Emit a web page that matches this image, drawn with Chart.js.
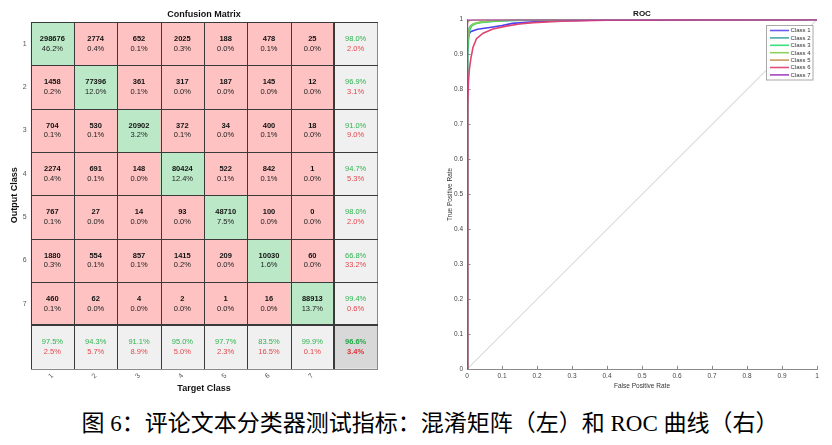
<!DOCTYPE html>
<html><head><meta charset="utf-8">
<script src="https://cdn.jsdelivr.net/npm/chart.js@4.4.1/dist/chart.umd.min.js"></script>
<style>
html,body{margin:0;padding:0;background:#fff;width:832px;height:445px;overflow:hidden}
#cm{position:absolute;left:0;top:0}
#roc{position:absolute;left:420px;top:0}
#cap{position:absolute;left:14px;top:409px;width:832px;text-align:center;font-family:"Liberation Serif","Noto Sans CJK SC",serif;font-size:23px;line-height:30px;color:#000;white-space:nowrap}
</style></head><body>
<canvas id="cm" width="400" height="400"></canvas>
<canvas id="roc" width="412" height="400"></canvas>
<div id="cap">图 6：评论文本分类器测试指标：混淆矩阵（左）和 ROC 曲线（右）</div>
<script>
// ---------- Confusion matrix data ----------
const classes = ['1','2','3','4','5','6','7'];
const counts = [
  [298676, 2774, 652, 2025, 188, 478, 25],
  [1458, 77396, 361, 317, 187, 145, 12],
  [704, 530, 20902, 372, 34, 400, 18],
  [2274, 691, 148, 80424, 522, 842, 1],
  [767, 27, 14, 93, 48710, 100, 0],
  [1880, 554, 857, 1415, 209, 10030, 60],
  [460, 62, 4, 2, 1, 16, 88913]
];
const cellPct = [
  ['46.2%','0.4%','0.1%','0.3%','0.0%','0.1%','0.0%'],
  ['0.2%','12.0%','0.1%','0.0%','0.0%','0.0%','0.0%'],
  ['0.1%','0.1%','3.2%','0.1%','0.0%','0.1%','0.0%'],
  ['0.4%','0.1%','0.0%','12.4%','0.1%','0.1%','0.0%'],
  ['0.1%','0.0%','0.0%','0.0%','7.5%','0.0%','0.0%'],
  ['0.3%','0.1%','0.1%','0.2%','0.0%','1.6%','0.0%'],
  ['0.1%','0.0%','0.0%','0.0%','0.0%','0.0%','13.7%']
];
const rowCorrect = ['98.0%','96.9%','91.0%','94.7%','98.0%','66.8%','99.4%'];
const rowWrong   = ['2.0%','3.1%','9.0%','5.3%','2.0%','33.2%','0.6%'];
const colCorrect = ['97.5%','94.3%','91.1%','95.0%','97.7%','83.5%','99.9%'];
const colWrong   = ['2.5%','5.7%','8.9%','5.0%','2.3%','16.5%','0.1%'];
const totalCorrect = '96.6%';
const totalWrong = '3.4%';

// ---------- ROC data (FPR, TPR) ----------
const class1 = [[0,0],[0.001,0.9],[0.003,0.945],[0.006,0.958],[0.01,0.965],[0.03,0.972],[0.07,0.978],[0.1,0.983],[0.13,0.989],[0.18,0.993],[0.25,0.996],[0.35,0.998],[0.5,0.999],[1,1]];
const class2 = [[0,0],[0.001,0.94],[0.004,0.97],[0.01,0.982],[0.02,0.988],[0.04,0.992],[0.08,0.996],[0.15,0.998],[0.3,0.999],[1,1]];
const class3 = [[0,0],[0.002,0.9],[0.005,0.95],[0.008,0.97],[0.013,0.981],[0.022,0.987],[0.036,0.991],[0.064,0.994],[0.12,0.997],[0.25,0.999],[1,1]];
const class4 = [[0,0],[0.001,0.93],[0.004,0.965],[0.008,0.978],[0.015,0.986],[0.03,0.991],[0.06,0.995],[0.12,0.998],[0.3,1],[1,1]];
const class5 = [[0,0],[0,0.985],[0.003,0.995],[0.01,0.998],[0.03,0.999],[0.1,1],[1,1]];
const class6 = [[0,0],[0.002,0.75],[0.004,0.82],[0.007,0.86],[0.011,0.888],[0.017,0.92],[0.027,0.945],[0.046,0.961],[0.074,0.973],[0.112,0.981],[0.15,0.987],[0.19,0.991],[0.27,0.995],[0.4,0.998],[0.6,0.999],[1,1]];
const class7 = [[0,0],[0,0.995],[0.001,0.999],[0.01,1],[1,1]];
const chance = [[0,0],[1,1]];
const rocNames = ['Class 1','Class 2','Class 3','Class 4','Class 5','Class 6','Class 7'];
const rocTicks = [0,0.1,0.2,0.3,0.4,0.5,0.6,0.7,0.8,0.9,1];

// ---------- styles ----------
const FONT = '"Liberation Sans", Arial, sans-serif';
const GREEN_CELL = '#bbe9c7', RED_CELL = '#fdc2c1', GRAY_CELL = '#f0f0f0', DARK_CELL = '#d8d8d8';
const GREEN_TXT = '#2fb350', RED_TXT = '#e5464b';
const rocColors = ['#4a3ef0','#3aa9a6','#2adb6a','#86cf55','#c79a5e','#e0436f','#a03cb8'];
const legendColors = ['#6a5af0','#4aaaa8','#3de07a','#8fd060','#c99a60','#e0507a','#a545c0'];

// ---------- Confusion matrix chart ----------
const N = classes.length + 1;
function cellColor(r, c) {
  if (r === N - 1 && c === N - 1) return DARK_CELL;
  if (r === N - 1 || c === N - 1) return GRAY_CELL;
  return r === c ? GREEN_CELL : RED_CELL;
}
const cmDatasets = [];
for (let r = 0; r < N; r++) {
  const colors = [];
  for (let c = 0; c < N; c++) colors.push(cellColor(r, c));
  cmDatasets.push({
    data: new Array(N).fill(1),
    backgroundColor: colors,
    borderWidth: 0,
    barPercentage: 1,
    categoryPercentage: 1
  });
}

const cmPlugin = {
  id: 'cmDecor',
  afterDatasetsDraw(chart) {
    const {ctx, chartArea: a, scales: {x, y}} = chart;
    const cw = x.getPixelForValue(1) - x.getPixelForValue(0);
    const xb = i => x.getPixelForValue(i) - cw / 2;
    const yb = j => y.getPixelForValue(j);
    ctx.save();
    for (let i = 0; i <= N; i++) {
      const px = Math.round(xb(i)) + 0.5;
      ctx.beginPath();
      ctx.strokeStyle = i === N ? '#8a8a8a' : '#3a3a3a';
      ctx.lineWidth = i === N - 1 ? 2 : 1;
      ctx.moveTo(i === N - 1 ? px - 0.5 : px, Math.round(yb(0)));
      ctx.lineTo(i === N - 1 ? px - 0.5 : px, Math.round(yb(N)) + 1);
      ctx.stroke();
    }
    for (let j = 0; j <= N; j++) {
      const py = Math.round(yb(j)) + 0.5;
      ctx.beginPath();
      ctx.strokeStyle = j === N ? '#8a8a8a' : '#3a3a3a';
      ctx.lineWidth = j === N - 1 ? 2 : 1;
      ctx.moveTo(Math.round(xb(0)), j === N - 1 ? py - 0.5 : py);
      ctx.lineTo(Math.round(xb(N)) + 1, j === N - 1 ? py - 0.5 : py);
      ctx.stroke();
    }
    ctx.textAlign = 'center';
    ctx.textBaseline = 'middle';
    for (let r = 0; r < N; r++) {
      for (let c = 0; c < N; c++) {
        const cx = x.getPixelForValue(c);
        const cy = (yb(r) + yb(r + 1)) / 2;
        let t1, t2, c1, c2, b2;
        if (r < N - 1 && c < N - 1) {
          t1 = String(counts[r][c]); t2 = cellPct[r][c]; c1 = '#111'; c2 = '#222'; b2 = false;
        } else if (r < N - 1) {
          t1 = rowCorrect[r]; t2 = rowWrong[r]; c1 = GREEN_TXT; c2 = RED_TXT; b2 = false;
        } else if (c < N - 1) {
          t1 = colCorrect[c]; t2 = colWrong[c]; c1 = GREEN_TXT; c2 = RED_TXT; b2 = false;
        } else {
          t1 = totalCorrect; t2 = totalWrong; c1 = '#1ea845'; c2 = '#e03035'; b2 = true;
        }
        const bold1 = (r < N - 1 && c < N - 1) || b2;
        ctx.font = (bold1 ? 'bold ' : '') + '7.5px ' + FONT;
        ctx.fillStyle = c1;
        ctx.fillText(t1, cx, cy - 4.6);
        ctx.font = (b2 ? 'bold ' : '') + '7.5px ' + FONT;
        ctx.fillStyle = c2;
        ctx.fillText(t2, cx, cy + 4.8);
      }
    }
    ctx.font = 'bold 9px ' + FONT;
    ctx.fillStyle = '#111';
    ctx.fillText('Confusion Matrix', (a.left + a.right) / 2, 14.5);
    ctx.restore();
  }
};

new Chart(document.getElementById('cm'), {
  type: 'bar',
  data: {labels: [...classes, ''], datasets: cmDatasets},
  options: {
    responsive: false,
    animation: false,
    events: [],
    layout: {padding: {top: 22, right: 22.7, bottom: 0, left: 0}},
    plugins: {legend: {display: false}, tooltip: {enabled: false}, title: {display: false}},
    scales: {
      x: {
        stacked: true,
        grid: {display: false, drawTicks: false},
        border: {display: false},
        ticks: {autoSkip: false, minRotation: 45, maxRotation: 45, padding: 3, font: {family: FONT, size: 7}, color: '#555'},
        title: {display: true, text: 'Target Class', font: {family: FONT, size: 9, weight: 'bold'}, color: '#111', padding: {top: 0, bottom: 5.6}},
        afterFit(s) { s.height = 31.3; }
      },
      y: {
        stacked: true,
        reverse: true,
        min: 0,
        max: N,
        grid: {display: false, drawTicks: false},
        border: {display: false},
        afterBuildTicks(s) { s.ticks = classes.map((_, i) => ({value: i + 0.5})); },
        ticks: {padding: 4, font: {family: FONT, size: 7}, color: '#555', callback: v => String(v + 0.5)},
        title: {display: true, text: 'Output Class', font: {family: FONT, size: 9, weight: 'bold'}, color: '#111', padding: {top: 9.6, bottom: 0}},
        afterFit(s) { s.width = 30.7; }
      }
    }
  },
  plugins: [cmPlugin]
});

// ---------- ROC chart ----------
const rocSeries = [class1, class2, class3, class4, class5, class6, class7];
const rocDatasets = rocSeries.map((pts, i) => ({
  label: rocNames[i],
  data: pts.map(p => ({x: p[0], y: p[1]})),
  borderColor: rocColors[i],
  borderWidth: i === 6 ? 2 : 1.6,
  pointRadius: 0,
  fill: false,
  tension: 0,
  order: 8 - i
}));
rocDatasets.push({
  label: 'chance',
  data: chance.map(p => ({x: p[0], y: p[1]})),
  borderColor: '#c9c9c9',
  borderWidth: 1,
  pointRadius: 0,
  fill: false,
  order: 20
});

const rocPlugin = {
  id: 'rocDecor',
  beforeDatasetsDraw(chart) {
    const {ctx, chartArea: a, scales: {x, y}} = chart;
    ctx.save();
    ctx.strokeStyle = '#8a8a8a';
    ctx.lineWidth = 1;
    x.ticks.forEach(t => {
      const px = Math.round(x.getPixelForValue(t.value)) + 0.5;
      ctx.beginPath(); ctx.moveTo(px, a.bottom); ctx.lineTo(px, a.bottom - 3.5); ctx.stroke();
    });
    y.ticks.forEach(t => {
      const py = Math.round(y.getPixelForValue(t.value)) + 0.5;
      ctx.beginPath(); ctx.moveTo(a.left, py); ctx.lineTo(a.left + 3.5, py); ctx.stroke();
    });
    ctx.restore();
  },
  afterDraw(chart) {
    const {ctx, chartArea: a} = chart;
    ctx.save();
    ctx.font = 'bold 8px ' + FONT;
    ctx.fillStyle = '#111';
    ctx.textAlign = 'center';
    ctx.textBaseline = 'middle';
    ctx.fillText('ROC', (a.left + a.right) / 2, 13.5);
    const bw = 46.5, bh = 54.5;
    const bx = Math.round(a.right - 4.5 - bw) + 0.5, by = Math.round(a.top + 5) + 0.5;
    ctx.fillStyle = '#fff';
    ctx.fillRect(bx, by, bw, bh);
    ctx.strokeStyle = '#a8a8a8';
    ctx.lineWidth = 1;
    ctx.strokeRect(bx, by, bw, bh);
    ctx.textAlign = 'left';
    ctx.font = '6px ' + FONT;
    rocNames.forEach((name, i) => {
      const ly = by + 5 + i * 7.4;
      ctx.strokeStyle = legendColors[i];
      ctx.lineWidth = 1.6;
      ctx.beginPath(); ctx.moveTo(bx + 3.5, ly); ctx.lineTo(bx + 22.5, ly); ctx.stroke();
      ctx.fillStyle = '#333';
      ctx.fillText(name, bx + 24, ly + 0.3);
    });
    ctx.restore();
  }
};

const tickFmt = v => String(Math.round(v * 10) / 10);

new Chart(document.getElementById('roc'), {
  type: 'line',
  data: {datasets: rocDatasets},
  options: {
    responsive: false,
    animation: false,
    events: [],
    layout: {padding: {top: 19.5, right: 15, bottom: 0, left: 0}},
    plugins: {legend: {display: false}, tooltip: {enabled: false}, title: {display: false}},
    scales: {
      x: {
        type: 'linear', min: 0, max: 1,
        afterBuildTicks(s) { s.ticks = rocTicks.map(v => ({value: v})); },
        grid: {display: false, drawTicks: false},
        border: {display: true, color: '#8a8a8a', width: 1},
        ticks: {padding: 3.5, font: {family: FONT, size: 6.5}, color: '#444', autoSkip: false, maxRotation: 0, callback: tickFmt},
        title: {display: true, text: 'False Positive Rate', font: {family: FONT, size: 6.5}, color: '#333', padding: {top: 0, bottom: 10.1}},
        afterFit(s) { s.height = 30.7; }
      },
      y: {
        type: 'linear', min: 0, max: 1,
        afterBuildTicks(s) { s.ticks = rocTicks.map(v => ({value: v})); },
        grid: {display: false, drawTicks: false},
        border: {display: true, color: '#8a8a8a', width: 1},
        ticks: {padding: 4, font: {family: FONT, size: 6.5}, color: '#444', autoSkip: false, callback: tickFmt},
        title: {display: true, text: 'True Positive Rate', font: {family: FONT, size: 6.5}, color: '#333', padding: {top: 26.8, bottom: 0}},
        afterFit(s) { s.width = 47; }
      }
    }
  },
  plugins: [rocPlugin]
});
</script>
</body></html>
